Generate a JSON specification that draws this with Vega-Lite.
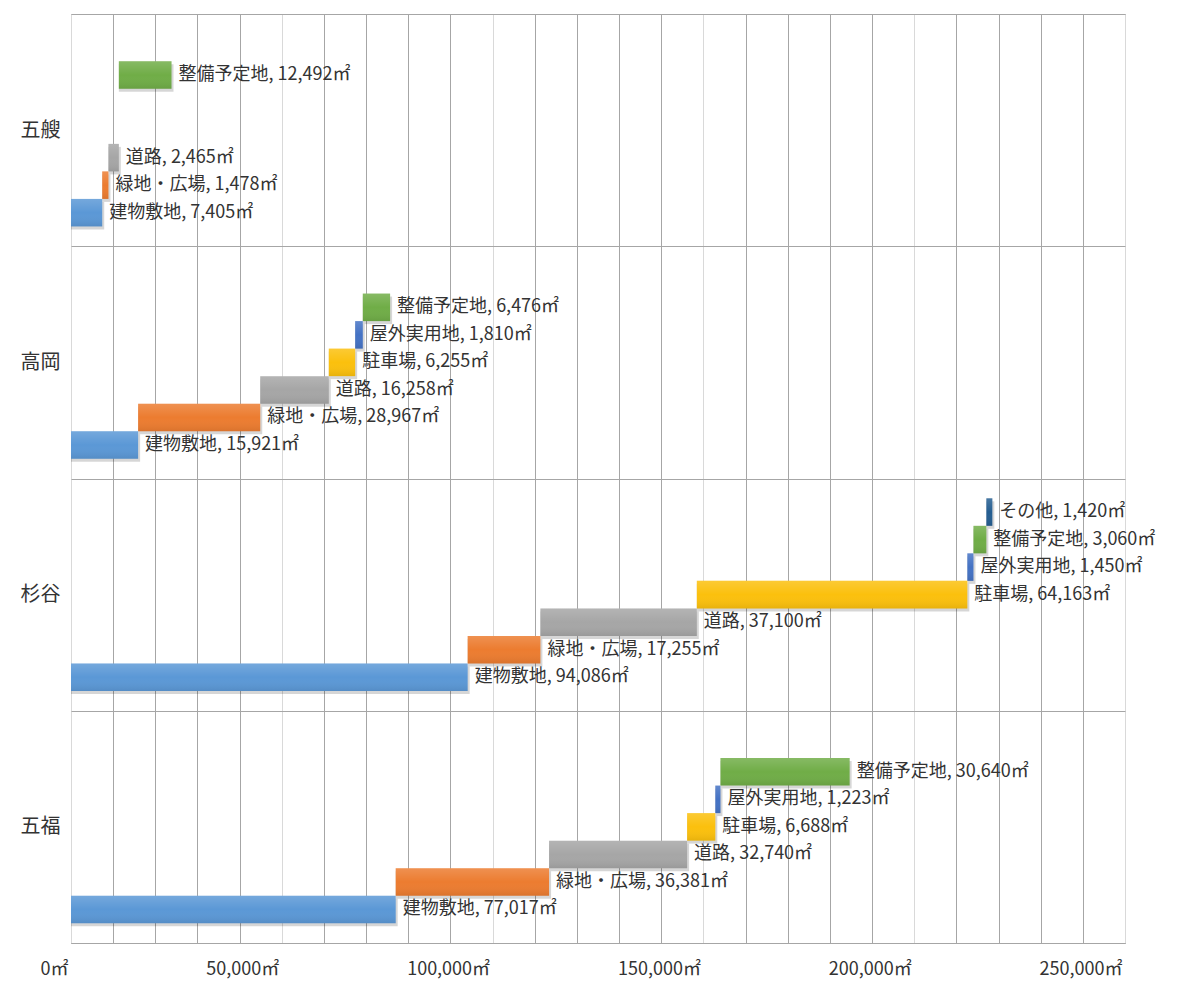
{
  "$schema": "https://vega.github.io/schema/vega-lite/v6.json",
  "width": 1054,
  "height": 929,
  "autosize": {"type": "none"},
  "padding": {"left": 71, "top": 14, "right": 52, "bottom": 40},
  "background": "white",
  "config": {
    "view": {"stroke": "#a6a6a6", "strokeWidth": 1},
    "font": "Noto Sans CJK JP"
  },
  "data": {
    "values": [
      {"site": "五艘", "category": "建物敷地", "area": 7405, "label": "建物敷地, 7,405㎡"},
      {"site": "五艘", "category": "緑地・広場", "area": 1478, "label": "緑地・広場, 1,478㎡"},
      {"site": "五艘", "category": "道路", "area": 2465, "label": "道路, 2,465㎡"},
      {"site": "五艘", "category": "整備予定地", "area": 12492, "label": "整備予定地, 12,492㎡"},
      {"site": "高岡", "category": "建物敷地", "area": 15921, "label": "建物敷地, 15,921㎡"},
      {"site": "高岡", "category": "緑地・広場", "area": 28967, "label": "緑地・広場, 28,967㎡"},
      {"site": "高岡", "category": "道路", "area": 16258, "label": "道路, 16,258㎡"},
      {"site": "高岡", "category": "駐車場", "area": 6255, "label": "駐車場, 6,255㎡"},
      {"site": "高岡", "category": "屋外実用地", "area": 1810, "label": "屋外実用地, 1,810㎡"},
      {"site": "高岡", "category": "整備予定地", "area": 6476, "label": "整備予定地, 6,476㎡"},
      {"site": "杉谷", "category": "建物敷地", "area": 94086, "label": "建物敷地, 94,086㎡"},
      {"site": "杉谷", "category": "緑地・広場", "area": 17255, "label": "緑地・広場, 17,255㎡"},
      {"site": "杉谷", "category": "道路", "area": 37100, "label": "道路, 37,100㎡"},
      {"site": "杉谷", "category": "駐車場", "area": 64163, "label": "駐車場, 64,163㎡"},
      {"site": "杉谷", "category": "屋外実用地", "area": 1450, "label": "屋外実用地, 1,450㎡"},
      {"site": "杉谷", "category": "整備予定地", "area": 3060, "label": "整備予定地, 3,060㎡"},
      {"site": "杉谷", "category": "その他", "area": 1420, "label": "その他, 1,420㎡"},
      {"site": "五福", "category": "建物敷地", "area": 77017, "label": "建物敷地, 77,017㎡"},
      {"site": "五福", "category": "緑地・広場", "area": 36381, "label": "緑地・広場, 36,381㎡"},
      {"site": "五福", "category": "道路", "area": 32740, "label": "道路, 32,740㎡"},
      {"site": "五福", "category": "駐車場", "area": 6688, "label": "駐車場, 6,688㎡"},
      {"site": "五福", "category": "屋外実用地", "area": 1223, "label": "屋外実用地, 1,223㎡"},
      {"site": "五福", "category": "整備予定地", "area": 30640, "label": "整備予定地, 30,640㎡"}
    ]
  },
  "transform": [
    {"stack": "area", "groupby": ["site"], "as": ["start", "end"]}
  ],
  "encoding": {
    "y": {
      "field": "site",
      "type": "nominal",
      "sort": ["五艘", "高岡", "杉谷", "五福"],
      "scale": {"paddingInner": 0, "paddingOuter": 0},
      "axis": {
        "title": null,
        "domain": false,
        "ticks": false,
        "grid": true,
        "tickBand": "extent",
        "gridColor": "#a6a6a6",
        "labelFontSize": 20,
        "labelColor": "#333333",
        "labelPadding": 11
      }
    },
    "x": {
      "field": "end",
      "type": "quantitative",
      "scale": {"domain": [0, 250000], "nice": false},
      "axis": {
        "title": null,
        "values": [0, 10000, 20000, 30000, 40000, 50000, 60000, 70000, 80000, 90000, 100000, 110000, 120000, 130000, 140000, 150000, 160000, 170000, 180000, 190000, 200000, 210000, 220000, 230000, 240000, 250000],
        "labelExpr": "datum.value % 50000 === 0 ? format(datum.value, ',') + '㎡' : ''",
        "labelOverlap": false,
        "labelFlush": false,
        "labelAlign": "right",
        "labelOffset": -3,
        "ticks": false,
        "domain": true,
        "domainColor": "#a6a6a6",
        "gridColor": {"condition": {"test": "datum.value % 50000 === 0", "value": "#d9d9d9"}, "value": "#a6a6a6"},
        "labelFontSize": 18,
        "labelPadding": 17,
        "labelColor": "#333333"
      }
    }
  },
  "layer": [
    {
      "mark": {"type": "bar", "color": "#000000", "opacity": 0.16, "xOffset": 2},
      "encoding": {
        "x2": {"field": "start"},
        "yOffset": {
          "field": "category",
          "type": "nominal",
          "sort": ["その他", "整備予定地", "屋外実用地", "駐車場", "道路", "緑地・広場", "建物敷地"],
          "scale": {"paddingInner": 0, "paddingOuter": 0.72, "range": [3, 235.25]}
        }
      }
    },
    {
      "mark": {"type": "bar"},
      "encoding": {
        "x2": {"field": "start"},
        "yOffset": {
          "field": "category",
          "type": "nominal",
          "sort": ["その他", "整備予定地", "屋外実用地", "駐車場", "道路", "緑地・広場", "建物敷地"],
          "scale": {"paddingInner": 0, "paddingOuter": 0.72}
        },
        "color": {
          "field": "category",
          "type": "nominal",
          "legend": null,
          "scale": {
            "domain": ["建物敷地", "緑地・広場", "道路", "駐車場", "屋外実用地", "整備予定地", "その他"],
            "range": ["#5B98D6", "#EC7C30", "#A6A6A6", "#FBC00D", "#4472C4", "#70AD47", "#255E91"]
          }
        }
      }
    },
    {
      "mark": {
        "type": "bar",
        "color": {"gradient": "linear", "x1": 0, "y1": 0, "x2": 0, "y2": 1, "stops": [{"offset": 0, "color": "rgba(255,255,255,0.16)"}, {"offset": 0.5, "color": "rgba(255,255,255,0)"}, {"offset": 1, "color": "rgba(0,0,0,0.08)"}]}
      },
      "encoding": {
        "x2": {"field": "start"},
        "yOffset": {
          "field": "category",
          "type": "nominal",
          "sort": ["その他", "整備予定地", "屋外実用地", "駐車場", "道路", "緑地・広場", "建物敷地"],
          "scale": {"paddingInner": 0, "paddingOuter": 0.72}
        }
      }
    },
    {
      "mark": {"type": "text", "align": "left", "baseline": "middle", "dx": 7, "fontSize": 18, "color": "#333333"},
      "encoding": {
        "text": {"field": "label"},
        "yOffset": {
          "field": "category",
          "type": "nominal",
          "bandPosition": 0.5,
          "sort": ["その他", "整備予定地", "屋外実用地", "駐車場", "道路", "緑地・広場", "建物敷地"],
          "scale": {"type": "band", "paddingInner": 0, "paddingOuter": 0.72}
        }
      }
    }
  ],
  "resolve": {"scale": {"yOffset": "independent"}}
}
